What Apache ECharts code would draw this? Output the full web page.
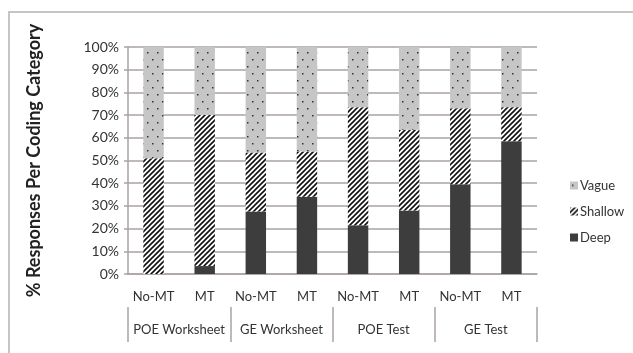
<!DOCTYPE html>
<html>
<head>
<meta charset="utf-8">
<script src="https://cdn.jsdelivr.net/npm/echarts@6/dist/echarts.min.js"></script>
<style>
  html, body { margin: 0; padding: 0; background: #fff; }
  #frame { position: absolute; left: 8px; top: 11px; width: 640px; height: 360px;
           border-left: 2px solid #c9c3c1; border-top: 2px solid #c9c3c1; }
  #chart { position: absolute; left: 0; top: 0; width: 633px; height: 353px; }
</style>
</head>
<body>
<div id="frame"></div>
<div id="chart"></div>
<script>
let conditions = ['No-MT', 'MT', 'No-MT', 'MT', 'No-MT', 'MT', 'No-MT', 'MT']
let groups = ['POE Worksheet', 'GE Worksheet', 'POE Test', 'GE Test']
let deep = [0, 3.5, 27.5, 34, 21.5, 28, 39.5, 58.5]
let shallow = [51, 66.5, 26, 20, 52, 35.5, 33.5, 15]
let vague = [49, 30, 46.5, 46, 26.5, 36.5, 27, 26.5]

let gridColor = '#aaa3a1'
let font = 'Lato, "Open Sans", sans-serif'

function stripes () {
  let c = document.createElement('canvas')
  c.width = 5
  c.height = 5
  let ctx = c.getContext('2d')
  ctx.fillStyle = '#fff'
  ctx.fillRect(0, 0, 5, 5)
  ctx.strokeStyle = '#111'
  ctx.lineWidth = 1.6
  ctx.beginPath()
  ctx.moveTo(-1, 6); ctx.lineTo(6, -1)
  ctx.moveTo(-1, 1); ctx.lineTo(1, -1)
  ctx.moveTo(4, 6); ctx.lineTo(6, 4)
  ctx.stroke()
  return c
}

function dots () {
  let c = document.createElement('canvas')
  c.width = 10
  c.height = 14
  let ctx = c.getContext('2d')
  ctx.fillStyle = '#c6c6c6'
  ctx.fillRect(0, 0, 10, 14)
  ctx.fillStyle = '#333'
  ctx.fillRect(2, 3, 1.5, 1.5)
  ctx.fillRect(7, 10, 1.5, 1.5)
  return c
}

let myChart = echarts.init(document.getElementById('chart'))
myChart.setOption({
  animation: false,
  textStyle: { fontFamily: font },
  grid: { left: 128, top: 47, right: 96, bottom: 79 },
  legend: {
    orient: 'vertical',
    left: 565,
    top: 174,
    itemWidth: 8,
    itemHeight: 8,
    itemGap: 13,
    icon: 'rect',
    data: ['Vague', 'Shallow', 'Deep'],
    textStyle: { fontSize: 13, color: '#333', fontFamily: font, padding: [0, 0, 0, -3] }
  },
  xAxis: [
    {
      type: 'category',
      data: conditions,
      axisLine: { lineStyle: { color: gridColor, width: 1.5 } },
      axisTick: { interval: 0, length: 33, lineStyle: { color: gridColor, width: 1.5 } },
      axisLabel: { interval: 0, margin: 16, fontSize: 13, color: '#333', fontFamily: font }
    },
    {
      type: 'category',
      data: groups,
      position: 'bottom',
      offset: 33,
      axisLine: { show: false },
      axisTick: { show: true, interval: 0, length: 35, lineStyle: { color: gridColor, width: 1.5 } },
      axisLabel: { interval: 0, margin: 16, fontSize: 13, color: '#333', fontFamily: font }
    }
  ],
  yAxis: {
    type: 'value',
    min: 0,
    max: 100,
    interval: 10,
    name: '% Responses Per Coding Category',
    nameLocation: 'middle',
    nameGap: 85,
    nameTextStyle: { fontSize: 18, fontWeight: 'bold', color: '#222', fontFamily: font },
    axisLine: { show: true, lineStyle: { color: gridColor, width: 1.5 } },
    axisTick: { show: true, length: 4, lineStyle: { color: gridColor, width: 1.5 } },
    axisLabel: { formatter: '{value}%', fontSize: 14, color: '#333', margin: 9, fontFamily: font },
    splitLine: { lineStyle: { color: gridColor, width: 1.5 } }
  },
  series: [
    {
      name: 'Deep',
      type: 'bar',
      stack: 'total',
      barWidth: '40%',
      data: deep,
      itemStyle: { color: '#3d3d3d' }
    },
    {
      name: 'Shallow',
      type: 'bar',
      stack: 'total',
      data: shallow,
      itemStyle: { color: { image: stripes(), repeat: 'repeat' } }
    },
    {
      name: 'Vague',
      type: 'bar',
      stack: 'total',
      data: vague,
      itemStyle: { color: { image: dots(), repeat: 'repeat' } }
    }
  ]
})
</script>
</body>
</html>
